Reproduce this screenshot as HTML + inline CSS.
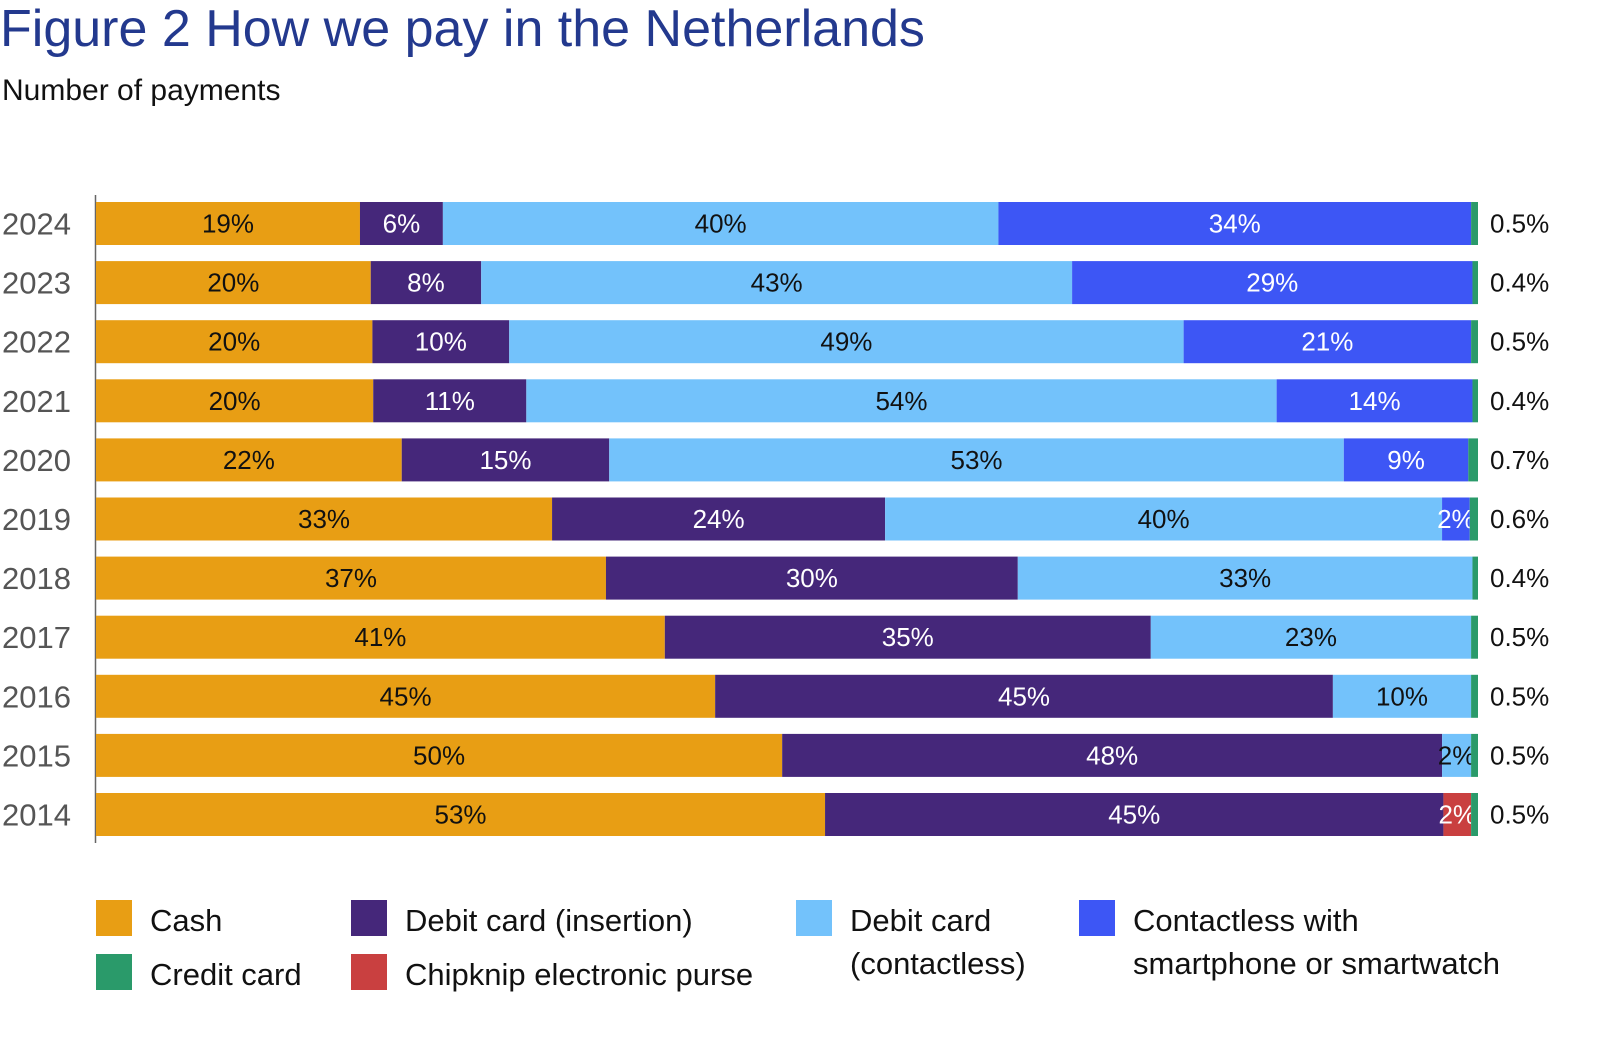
<!DOCTYPE html>
<html><head><meta charset="utf-8"><style>
body{margin:0;background:#fff;width:1600px;height:1063px;overflow:hidden;font-family:"Liberation Sans","DejaVu Sans",sans-serif;}
svg{display:block}
</style></head><body>
<svg id="chart" width="1600" height="1063" xmlns="http://www.w3.org/2000/svg">
<text x="0" y="46" font-size="52" fill="#23398E" font-family="Liberation Sans, sans-serif">Figure 2  How we pay in the Netherlands</text>
<text x="2" y="100" font-size="30" fill="#111">Number of payments</text>
<line x1="95.5" y1="195" x2="95.5" y2="843" stroke="#666" stroke-width="1.5"/>
<g id="bars"></g>
<g id="legend"></g>
</svg>
<script>
const years = ["2024","2023","2022","2021","2020","2019","2018","2017","2016","2015","2014"];
const cash = [19.1,19.9,20,20.1,22.1,33,36.9,41.2,44.8,49.7,52.7];
const debitInsert = [6,8,9.9,11.1,15,24.1,29.8,35.2,44.7,47.8,44.7];
const debitContactless = [40.2,42.8,48.8,54.4,53.1,40.3,32.9,23.2,10,2.1,0];
const smartphone = [34.2,29,20.8,14.2,9,2,0,0,0,0,0];
const chipknip = [0,0,0,0,0,0,0,0,0,0,2];
const credit = [0.5,0.4,0.5,0.4,0.7,0.6,0.4,0.5,0.5,0.5,0.5];
const cashLabels = ["19%","20%","20%","20%","22%","33%","37%","41%","45%","50%","53%"];
const insertLabels = ["6%","8%","10%","11%","15%","24%","30%","35%","45%","48%","45%"];
const contactlessLabels = ["40%","43%","49%","54%","53%","40%","33%","23%","10%","2%",""];
const smartphoneLabels = ["34%","29%","21%","14%","9%","2%","","","","",""];
const chipknipLabels = ["","","","","","","","","","","2%"];
const creditLabels = ["0.5%","0.4%","0.5%","0.4%","0.7%","0.6%","0.4%","0.5%","0.5%","0.5%","0.5%"];

const series = [
 {name:"cash",vals:cash,labels:cashLabels,color:"#E89E14",text:"#111"},
 {name:"debit-insertion",vals:debitInsert,labels:insertLabels,color:"#45277A",text:"#fff"},
 {name:"debit-contactless",vals:debitContactless,labels:contactlessLabels,color:"#73C2FB",text:"#111"},
 {name:"smartphone",vals:smartphone,labels:smartphoneLabels,color:"#3D56F5",text:"#fff"},
 {name:"chipknip",vals:chipknip,labels:chipknipLabels,color:"#C94040",text:"#fff"},
 {name:"credit-card",vals:credit,labels:null,color:"#2A9A6A",text:"#fff"}
];
const NS="http://www.w3.org/2000/svg";
const x0=96, plotW=1382, y0=202, step=59.1, barH=43;
function xScale(v){return v/100*plotW;}
function yPos(i){return y0+i*step;}
const g=document.getElementById('bars');
function mk(tag,attrs){const e=document.createElementNS(NS,tag);for(const k in attrs)e.setAttribute(k,attrs[k]);return e;}
years.forEach((yr,i)=>{
  const y=yPos(i);
  const total=series.reduce((s,se)=>s+se.vals[i],0);
  const yl=mk('text',{x:2,y:y+barH/2+11,'font-size':31,fill:'#555'});
  
  
  yl.textContent=yr;g.appendChild(yl);
  let cx=x0;
  series.forEach(se=>{
    const v=se.vals[i];if(v<=0)return;
    const w=xScale(v/total*100);
    const r=mk('rect',{x:cx,y:y,width:w,height:barH,fill:se.color});
    
    
    g.appendChild(r);
    if(se.labels&&se.labels[i]){
      const t=mk('text',{x:cx+w/2,y:y+barH/2+9,'font-size':26,fill:se.text,'text-anchor':'middle'});
      
      
      t.textContent=se.labels[i];g.appendChild(t);
    }
    cx+=w;
  });
  const cl=mk('text',{x:1490,y:y+barH/2+9,'font-size':26,fill:'#111'});
  
  
  cl.textContent=creditLabels[i];g.appendChild(cl);
});
const legendItems=[
 {x:96,y:900,color:"#E89E14",lines:["Cash"],n:"cash"},
 {x:96,y:954,color:"#2A9A6A",lines:["Credit card"],n:"credit-card"},
 {x:351,y:900,color:"#45277A",lines:["Debit card (insertion)"],n:"debit-insertion"},
 {x:351,y:954,color:"#C94040",lines:["Chipknip electronic purse"],n:"chipknip"},
 {x:796,y:900,color:"#73C2FB",lines:["Debit card","(contactless)"],n:"debit-contactless"},
 {x:1079,y:900,color:"#3D56F5",lines:["Contactless with","smartphone or smartwatch"],n:"smartphone"}
];
const lg=document.getElementById('legend');
legendItems.forEach(it=>{
  const r=mk('rect',{x:it.x,y:it.y,width:36,height:36,fill:it.color});
  
  
  lg.appendChild(r);
  it.lines.forEach((ln,j)=>{
    const t=mk('text',{x:it.x+54,y:it.y+31+j*43,'font-size':31,fill:'#111'});
    
    
    t.textContent=ln;lg.appendChild(t);
  });
});
</script>
</body></html>
